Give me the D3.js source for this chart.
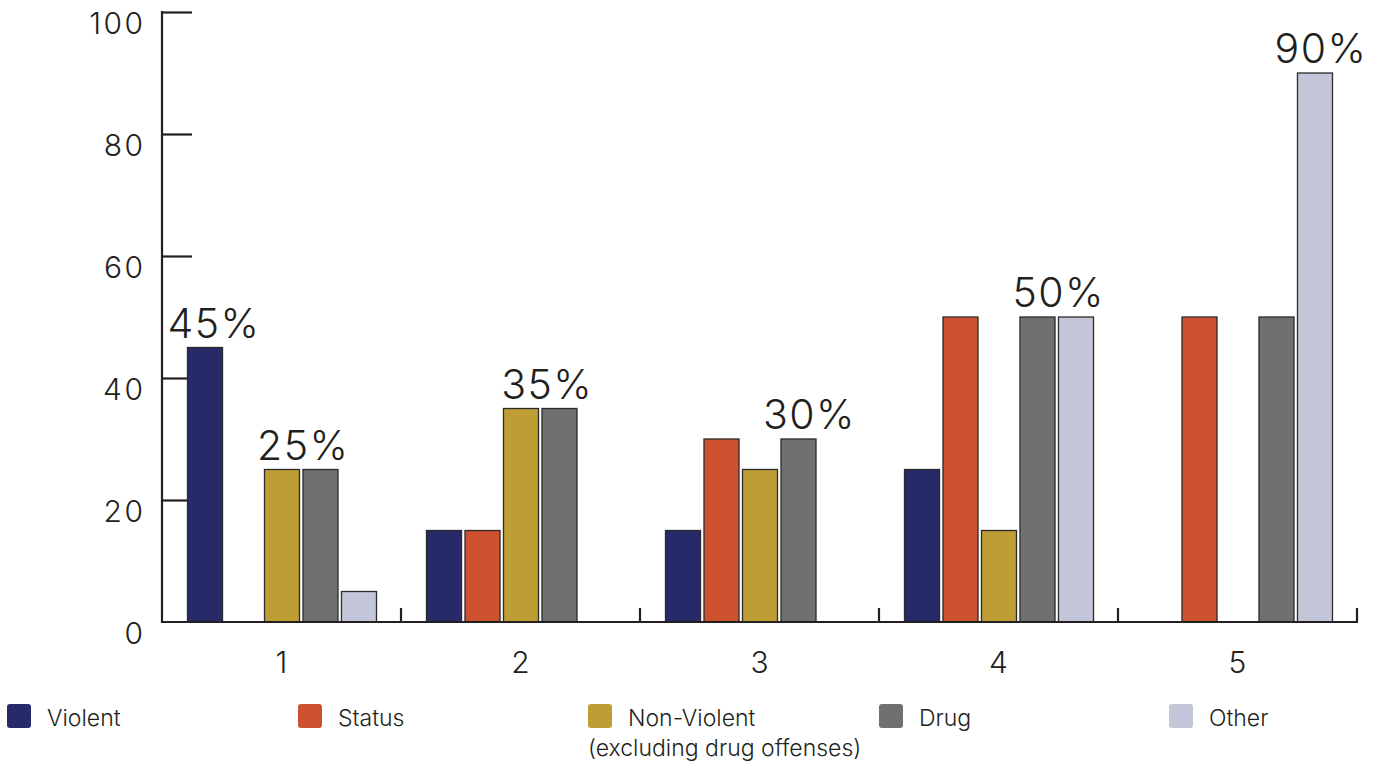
<!DOCTYPE html>
<html>
<head>
<meta charset="utf-8">
<script src="https://cdn.jsdelivr.net/npm/d3@7"></script>
<style>
  html, body { margin: 0; padding: 0; background: #fff; }
  svg { display: block; }
  text { font-family: Inter, "Noto Sans", sans-serif; fill: #231f20; }
</style>
</head>
<body>
<svg id="chart" width="1377" height="763"></svg>
<script>
// Offense categories by group
const categories = ["1", "2", "3", "4", "5"];
const seriesNames = ["Violent", "Status", "Non-Violent", "Drug", "Other"];
const violent    = [45, 15, 15, 25, 0];
const status     = [0, 15, 30, 50, 50];
const nonViolent = [25, 35, 25, 15, 0];
const drug       = [25, 35, 30, 50, 50];
const other      = [5, 0, 0, 50, 90];
const yTicks = [0, 20, 40, 60, 80, 100];

// Percentage callouts: group, series spanned, value
const calloutCats   = ["1", "1", "2", "3", "4", "5"];
const calloutSeries = [["Violent"], ["Non-Violent", "Drug"], ["Non-Violent", "Drug"], ["Drug"], ["Drug", "Other"], ["Other"]];
const calloutValues = [45, 25, 35, 30, 50, 90];

const colors = ["#272a68", "#cd512e", "#bf9d35", "#6f7170", "#c3c6d9"];
const seriesValues = [violent, status, nonViolent, drug, other];

const svg = d3.select("#chart");
const plotLeft = 162, plotRight = 1357, plotTop = 12, plotBottom = 622;

const x0 = d3.scaleBand().domain(categories).range([plotLeft, plotRight]).padding(0);
const x1 = d3.scaleBand().domain(seriesNames).range([25.5, 214.5]).paddingInner(0.09).paddingOuter(0);
const y = d3.scaleLinear().domain([0, 100]).range([plotBottom, plotTop]);
const color = d3.scaleOrdinal().domain(seriesNames).range(colors);

const rows = [];
categories.forEach((c, i) => {
  seriesNames.forEach((s, j) => {
    rows.push({ cat: c, series: s, value: seriesValues[j][i] });
  });
});

// Bars (zero values are not drawn)
svg.append("g")
  .selectAll("rect")
  .data(rows.filter(d => d.value > 0))
  .join("rect")
  .attr("x", d => x0(d.cat) + x1(d.series))
  .attr("y", d => y(d.value))
  .attr("width", x1.bandwidth())
  .attr("height", d => y(0) - y(d.value))
  .attr("fill", d => color(d.series))
  .attr("stroke", "#2b2b2b")
  .attr("stroke-width", 1.3);

// Axes
const axisColor = "#231f20";
const yAxis = svg.append("g").attr("transform", `translate(${plotLeft},0)`)
  .call(d3.axisRight(y).tickValues(yTicks.filter(v => v > 0)).tickSize(30).tickFormat(""));
yAxis.select(".domain").remove();
yAxis.selectAll("line").attr("stroke", axisColor).attr("stroke-width", 2.2);
yAxis.lower();

svg.append("line")
  .attr("x1", plotLeft).attr("x2", plotLeft)
  .attr("y1", y(100) - 1).attr("y2", y(0) + 1)
  .attr("stroke", axisColor).attr("stroke-width", 2.2);

svg.append("line")
  .attr("x1", plotLeft - 1).attr("x2", plotRight + 1)
  .attr("y1", y(0)).attr("y2", y(0))
  .attr("stroke", axisColor).attr("stroke-width", 2.2);

// Tick labels on the value axis (hang below each tick)
svg.append("g")
  .selectAll("text")
  .data(yTicks)
  .join("text")
  .attr("x", plotLeft - 16.5)
  .attr("y", d => y(d) + 22)
  .attr("text-anchor", "end")
  .attr("font-size", 30)
  .attr("font-weight", 300)
  .attr("letter-spacing", 2.5)
  .text(d => d);

// Group boundary ticks on the category axis
svg.append("g")
  .selectAll("line")
  .data(categories)
  .join("line")
  .attr("x1", d => x0(d) + x0.bandwidth())
  .attr("x2", d => x0(d) + x0.bandwidth())
  .attr("y1", plotBottom)
  .attr("y2", plotBottom - 14)
  .attr("stroke", axisColor)
  .attr("stroke-width", 2.2);

svg.append("g")
  .selectAll("text")
  .data(categories)
  .join("text")
  .attr("x", d => x0(d) + x0.bandwidth() / 2)
  .attr("y", 673)
  .attr("text-anchor", "middle")
  .attr("font-size", 30)
  .attr("font-weight", 300)
  .text(d => d);

// Percentage callouts above bars
const calloutNudge = [9, 2, 7, 11, 2, 6];
svg.append("g")
  .selectAll("text")
  .data(calloutValues.map((v, i) => ({ cat: calloutCats[i], series: calloutSeries[i], value: v, nudge: calloutNudge[i] })))
  .join("text")
  .attr("x", d => {
    const first = x0(d.cat) + x1(d.series[0]);
    const last = x0(d.cat) + x1(d.series[d.series.length - 1]) + x1.bandwidth();
    return (first + last) / 2 + d.nudge;
  })
  .attr("y", d => y(d.value) - 10)
  .attr("text-anchor", "middle")
  .attr("font-size", 41)
  .attr("font-weight", 350)
  .attr("letter-spacing", 1.5)
  .text(d => d.value + "%");

// Legend
const legendX = [7, 298, 588, 879, 1169];
const legendLabels = [["Violent"], ["Status"], ["Non-Violent", "(excluding drug offenses)"], ["Drug"], ["Other"]];
const legend = svg.append("g")
  .selectAll("g")
  .data(seriesNames)
  .join("g")
  .attr("transform", (d, i) => `translate(${legendX[i]},704)`);
legend.append("rect")
  .attr("width", 24).attr("height", 24).attr("rx", 3)
  .attr("fill", d => color(d));
legend.each(function(d, i) {
  const g = d3.select(this);
  legendLabels[i].forEach((line, k) => {
    g.append("text")
      .attr("x", k === 0 ? 40 : 0)
      .attr("y", 22 + k * 30)
      .attr("font-size", 23)
      .attr("font-weight", 300)
      .text(line);
  });
});
</script>
</body>
</html>
